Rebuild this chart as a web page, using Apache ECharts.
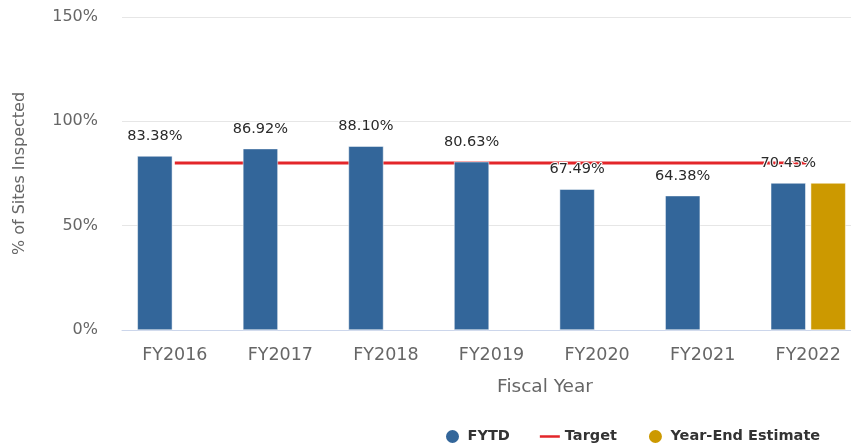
<!DOCTYPE html>
<html>
<head>
<meta charset="utf-8">
<script src="https://cdn.jsdelivr.net/npm/echarts@6/dist/echarts.min.js"></script>
<style>
  html, body { margin: 0; padding: 0; background: #fff; }
  #chart { width: 851px; height: 448px; }
</style>
</head>
<body>
<div id="chart"></div>
<script>
var years = ['FY2016', 'FY2017', 'FY2018', 'FY2019', 'FY2020', 'FY2021', 'FY2022'];
var fytd = [83.38, 86.92, 88.10, 80.63, 67.49, 64.38, 70.45];
var estimate = [null, null, null, null, null, null, 70.45];
var target = [80, 80, 80, 80, 80, 80, 80];
var yTicks = [0, 50, 100, 150];

var font = 'DejaVu Sans';

var option = {
    animation: false,
    textStyle: { fontFamily: font },
    grid: {
        left: 122,
        top: 17,
        width: 739,
        bottom: 118,
        outerBoundsMode: 'none'
    },
    legend: {
        left: 439,
        top: 423,
        itemGap: 30,
        itemWidth: 20,
        itemHeight: 15,
        textStyle: { fontSize: 14.5, fontWeight: 'bold', color: '#333' },
        data: [
            { name: 'FYTD', icon: 'circle' },
            { name: 'Target', icon: 'path://M0,0H24V3H0Z' },
            { name: 'Year-End Estimate', icon: 'circle' }
        ]
    },
    xAxis: {
        type: 'category',
        data: years,
        name: 'Fiscal Year',
        nameLocation: 'middle',
        nameGap: 48,
        nameTextStyle: { fontSize: 18.5, color: '#666', padding: [0, 0, 0, 107] },
        axisLine: { lineStyle: { color: '#ccd6eb' } },
        axisTick: { show: false },
        axisLabel: { fontSize: 17.5, color: '#666', margin: 16 }
    },
    yAxis: {
        type: 'value',
        min: yTicks[0],
        max: yTicks[yTicks.length - 1],
        interval: 50,
        name: '% of Sites Inspected',
        nameLocation: 'middle',
        nameGap: 94,
        nameTextStyle: { fontSize: 16, color: '#666' },
        axisLabel: { fontSize: 16, color: '#666', margin: 24, formatter: '{value}%' },
        splitLine: { lineStyle: { color: '#e6e6e6' } }
    },
    series: [
        {
            name: 'FYTD',
            type: 'bar',
            data: fytd,
            barWidth: 35,
            barGap: '14%',
            z: 3,
            itemStyle: { color: '#33669a', borderColor: '#ffffff', borderWidth: 0.5 },
            label: {
                show: true,
                position: 'top',
                distance: 12,
                fontSize: 14.5,
                color: '#2a2a2a',
                textBorderColor: '#fff',
                textBorderWidth: 2,
                formatter: function (p) { return p.value.toFixed(2) + '%'; }
            }
        },
        {
            name: 'Year-End Estimate',
            type: 'bar',
            data: estimate,
            barWidth: 35,
            z: 3,
            itemStyle: { color: '#cc9900', borderColor: '#ffffff', borderWidth: 0.5 }
        },
        {
            name: 'Target',
            type: 'line',
            data: target,
            symbol: 'none',
            z: 1,
            lineStyle: { color: '#e3262a', width: 3 },
            itemStyle: { color: '#e3262a' }
        }
    ]
};

var chart = echarts.init(document.getElementById('chart'));
chart.setOption(option);
</script>
</body>
</html>
